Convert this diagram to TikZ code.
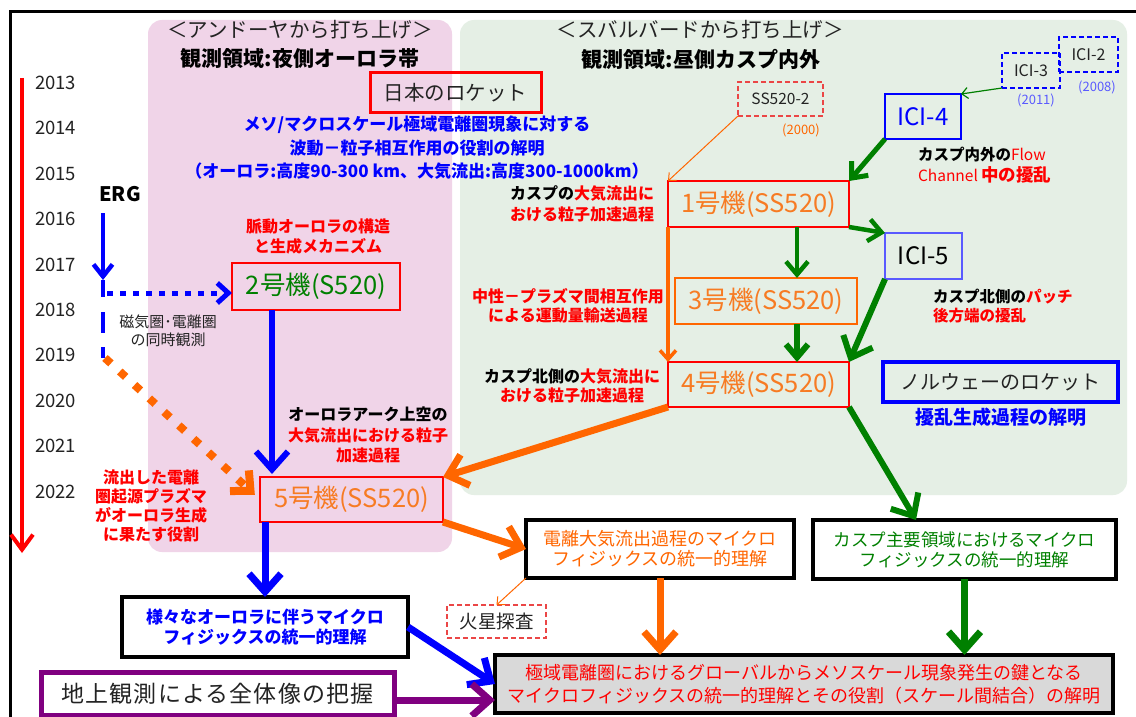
\documentclass[tikz,border=0pt]{standalone}
\usepackage{fontspec}
\setmainfont{Noto Sans CJK JP}
\usetikzlibrary{arrows.meta}
\definecolor{pinkbg}{RGB}{240,212,232}
\definecolor{greenbg}{RGB}{229,239,229}
\definecolor{myorange}{RGB}{255,102,0}
\definecolor{orangetxt}{RGB}{247,123,35}
\definecolor{mygreen}{RGB}{0,128,0}
\definecolor{myblue}{RGB}{0,0,255}
\definecolor{lightblue}{RGB}{90,90,255}
\definecolor{myred}{RGB}{255,0,0}
\definecolor{dashred}{RGB}{235,70,70}
\definecolor{mypurple}{RGB}{128,0,128}
\definecolor{boxgray}{RGB}{217,217,217}
\definecolor{textgray}{RGB}{35,35,35}
\newcommand{\fsz}[2]{\fontsize{#1}{#2}\selectfont}
\begin{document}
\begin{tikzpicture}[x=1pt,y=-1pt,
  every node/.style={inner sep=0pt,outer sep=0pt},
  bighead/.style={-{Straight Barb[length=18pt,width=32pt]}},
  midhead/.style={-{Straight Barb[length=13pt,width=22pt]}},
  smallhead/.style={-{Straight Barb[length=6pt,width=11pt]}},
  machine/.style={draw=myred,line width=1.2pt,text=orangetxt,font=\fsz{25.5}{25.5}},
  resultbox/.style={draw=black,line width=4.5pt,fill=white,align=center},
  note/.style={align=center,font=\bfseries\fsz{16}{20}},
  yearlbl/.style={anchor=west,text=textgray,font=\fsz{18.5}{18.5}},
  dashbox/.style={draw,line width=1.2pt,dash pattern=on 5pt off 3pt,text=textgray},
]
\useasboundingbox (0,0) rectangle (1136,717);
\fill[white] (0,0) rectangle (1136,717);
% panels
\fill[pinkbg, rounded corners=14pt] (148,20) rectangle (452,552);
\fill[greenbg, rounded corners=14pt] (460,20) rectangle (1127,495);
% frame
\draw[line width=3pt] (10,725) -- (10,12) -- (1145,12);

% years
\foreach \yr [count=\i from 0] in {2013,...,2022} {
  \node[yearlbl] (y\yr) at (35,{83+45.4*\i}) {\yr};
}
\coordinate (tlA) at (22,78);
\coordinate (tlB) at (22,553);
\draw[myred, line width=4pt, -{Straight Barb[length=15pt,width=22pt]}] (tlA) -- (tlB);

% titles
\node[font=\fsz{20.5}{20.5},text=textgray] (tA1) at (300,30) {＜アンドーヤから打ち上げ＞};
\node[font=\bfseries\fsz{21}{21}] (tA2) at (300,59) {観測領域:夜側オーロラ帯};
\node[font=\fsz{20.5}{20.5},text=textgray] (tB1) at (700,30) {＜スバルバードから打ち上げ＞};
\node[font=\bfseries\fsz{21}{21}] (tB2) at (701,59) {観測領域:昼側カスプ内外};

\node[draw=myred,line width=3pt,minimum width=171pt,minimum height=40pt,text=textgray,font=\fsz{20.5}{20.5}] (jp) at (455.5,92.5) {日本のロケット};

\node[align=center,text=myblue,font=\bfseries\fsz{17}{23.5}] (goal) at (417,148)
  {メソ/マクロスケール極域電離圏現象に対する\\波動－粒子相互作用の役割の解明\\（オーロラ:高度90-300 km、大気流出:高度300-1000km）};

% ERG
\node[font=\bfseries\fsz{20}{20}] (erg) at (120,194) {ERG};
\coordinate (ergA) at (103,213);
\coordinate (ergB) at (103,280);
\coordinate (ergC) at (103,297);
\draw[myblue, line width=4.5pt, -{Straight Barb[length=12pt,width=19pt]}] (ergA) -- (ergB);
\draw[myblue, line width=4.5pt] (ergB) -- (ergC);
\coordinate (dotS) at (107,293);
\coordinate (dashA) at (103,312);
\coordinate (dashB) at (103,358);
\draw[myblue, line width=4pt, dash pattern=on 21pt off 14pt] (dashA) -- (dashB);
\node[align=center,text=textgray,font=\fsz{15}{18}] (simul) at (168,331) {磁気圏･電離圏\\の同時観測};

% machine boxes
\node[machine,text=mygreen,minimum width=168pt,minimum height=47pt] (n2) at (316,286.5) {2号機(S520)};
\node[machine,minimum width=183pt,minimum height=45pt] (n5) at (351.5,499.5) {5号機(SS520)};
\node[machine,minimum width=181pt,minimum height=46pt] (n1) at (758.5,204) {1号機(SS520)};
\node[machine,draw=myorange,line width=1.5pt,minimum width=182pt,minimum height=46pt] (n3) at (766,301) {3号機(SS520)};
\node[machine,minimum width=181pt,minimum height=45pt] (n4) at (758.5,384.5) {4号機(SS520)};

\draw[myblue, line width=5pt, dash pattern=on 6pt off 7pt, -{Straight Barb[length=11pt,width=20pt]}] (dotS) -- (dotS -| n2.west);
\coordinate (od1) at (105,358);
\draw[myorange, line width=8pt, dash pattern=on 8pt off 12pt, -{Straight Barb[length=15pt,width=28pt]}, shorten >=7pt] (od1) -- (n5.west);

\node[note,text=myred] (pulse) at (318,237) {脈動オーロラの構造\\と生成メカニズム};
\node[note,font=\bfseries\fsz{16}{20.5}] (arc) at (368,435) {オーロラアーク上空の\\{\color{myred}大気流出における粒子}\\{\color{myred}加速過程}};
\node[note,text=myred,font=\bfseries\fsz{16}{19}] (role) at (151,505.5) {流出した電離\\圏起源プラズマ\\がオーロラ生成\\に果たす役割};

\coordinate (xb) at (272,0);
\draw[myblue, line width=6pt, bighead, shorten >=3pt] (n2.south -| xb) -- (n5.north -| xb);

% svalbard side
\node[dashbox,draw=dashred,minimum width=85pt,minimum height=34pt,font=\fsz{15.5}{15.5}] (ss2) at (780.5,99) {SS520-2};
\node[text=myorange,font=\fsz{13}{13}] (y2000) at (801,130) {(2000)};
\draw[myorange, line width=1pt, smallhead] (ss2.south west) -- (n1.north west);

\node[draw=myblue,line width=1.5pt,minimum width=76pt,minimum height=45pt,text=myblue,font=\fsz{24}{24}] (ici4) at (923,116.5) {ICI-4};
\node[dashbox,draw=myblue,minimum width=58pt,minimum height=35pt,font=\fsz{16}{16}] (ici3) at (1031,70.5) {ICI-3};
\node[dashbox,draw=myblue,minimum width=59pt,minimum height=35pt,font=\fsz{16}{16}] (ici2) at (1088.5,54.5) {ICI-2};
\node[text=lightblue,font=\fsz{13}{13}] (y2011) at (1036,100) {(2011)};
\node[text=lightblue,font=\fsz{13}{13}] (y2008) at (1097,87) {(2008)};
\draw[mygreen, line width=1.2pt, smallhead] (ici3.south west) -- (ici4.north east);
\draw[mygreen, line width=5pt, midhead] (ici4.south west) -- (n1.north east);

\node[anchor=west,align=left,font=\bfseries\fsz{15.5}{21}] (flow) at (918,165.5)
  {カスプ内外の{\mdseries\color{myred} Flow}\\{\mdseries\color{myred}Channel }{\color{myred}\fsz{17.5}{21}中の擾乱}};

\node[draw=lightblue,line width=1.5pt,minimum width=77pt,minimum height=46pt,font=\fsz{24}{24}] (ici5) at (923.5,256) {ICI-5};
\draw[mygreen, line width=4.5pt, midhead] (n1.south east) -- (ici5.north west);
\draw[mygreen, line width=6pt, bighead] (ici5.south west) -- (n4.north east);

\coordinate (xg) at (797,0);
\draw[mygreen, line width=4.5pt, midhead] (n1.south -| xg) -- (n3.north -| xg);
\draw[mygreen, line width=6pt, midhead] (n3.south -| xg) -- (n4.north -| xg);
\draw[myorange, line width=3.5pt, -{Straight Barb[length=9pt,width=16pt]}] (n1.south west) -- (n4.north west);

\node[note,font=\bfseries\fsz{16}{21}] (cusp1) at (582,203.5) {カスプの{\color{myred}大気流出に}\\{\color{myred}おける粒子加速過程}};
\node[note,text=myred,font=\bfseries\fsz{16}{19}] (neutral) at (568,306) {中性－プラズマ間相互作用\\による運動量輸送過程};
\node[note,font=\bfseries\fsz{16}{19}] (cusp4) at (572,386) {カスプ北側の{\color{myred}大気流出に}\\{\color{myred}おける粒子加速過程}};

\node[anchor=west,align=left,font=\bfseries\fsz{15.5}{19}] (patch) at (933,306.5) {カスプ北側の{\color{myred}パッチ}\\{\color{myred}後方端の擾乱}};
\node[draw=myblue,line width=4pt,minimum width=235pt,minimum height=40pt,text=textgray,font=\fsz{20}{20}] (nor) at (1000.5,382) {ノルウェーのロケット};
\node[text=myblue,font=\bfseries\fsz{19}{19}] (norgoal) at (1001,417) {擾乱生成過程の解明};

% result boxes
\node[resultbox,minimum width=268pt,minimum height=58pt,text=myorange,font=\fsz{18}{20}] (ion) at (660,549) {電離大気流出過程のマイクロ\\フィジックスの統一的理解};
\node[resultbox,minimum width=303pt,minimum height=59pt,text=mygreen,font=\fsz{17.5}{20}] (cuspres) at (964.5,549.5) {カスプ主要領域におけるマイクロ\\フィジックスの統一的理解};
\node[resultbox,minimum width=286pt,minimum height=60pt,text=myblue,font=\bfseries\fsz{17}{20}] (aur) at (265,627) {様々なオーロラに伴うマイクロ\\フィジックスの統一的理解};
\node[dashbox,draw=dashred,minimum width=99pt,minimum height=33pt,font=\fsz{18.5}{18.5}] (mars) at (496.5,621.5) {火星探査};
\node[draw=mypurple,line width=5pt,fill=white,minimum width=353pt,minimum height=43pt,text=textgray,font=\fsz{23}{23}] (ground) at (217.5,693.5) {\addfontfeature{LetterSpace=5}地上観測による全体像の把握};
\node[draw=black,line width=4.5pt,fill=boxgray,minimum width=618pt,minimum height=58pt,align=center,text=myred,font=\fsz{18}{23}] (final) at (804,684)
  {極域電離圏におけるグローバルからメソスケール現象発生の鍵となる\\マイクロフィジックスの統一的理解とその役割（スケール間結合）の解明};

% arrows to results
\draw[myorange, line width=7pt, bighead] (n4.south west) -- (n5.north east);
\draw[myorange, line width=7pt, bighead] (n5.south east) -- (ion.west);
\coordinate (xc) at (916,0);
\draw[mygreen, line width=6pt, bighead] (n4.south east) -- (cuspres.north -| xc);
\coordinate (xb2) at (265,0);
\draw[myblue, line width=7pt, bighead] (n5.south -| xb2) -- (aur.north -| xb2);
\draw[myorange, line width=1pt, smallhead] (ion.south west) -- (mars.north);
\draw[myorange, line width=7pt, bighead] (ion.south) -- (final.north -| ion.south);
\draw[mygreen, line width=7pt, bighead] (cuspres.south) -- (final.north -| cuspres.south);
\draw[myblue, line width=7pt, bighead] (aur.east) -- (final.west);
\coordinate (yp) at (0,700);
\draw[mypurple, line width=7pt, bighead] (ground.east |- yp) -- (final.west |- yp);
\end{tikzpicture}
\end{document}
